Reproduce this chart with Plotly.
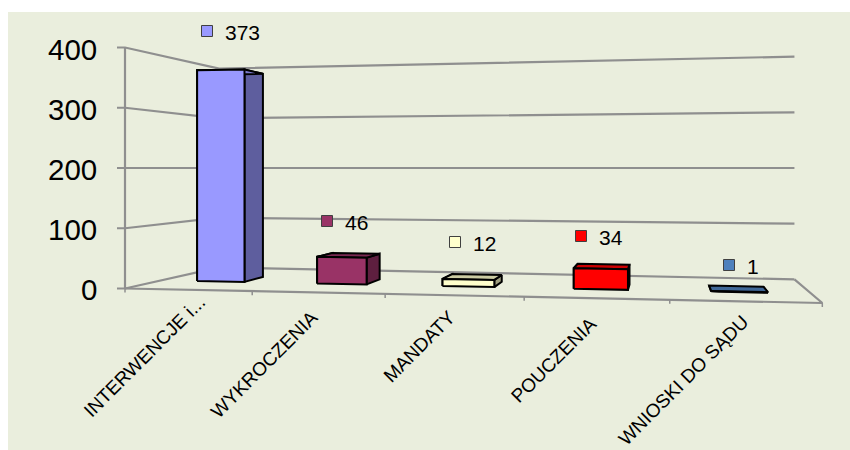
import plotly.graph_objects as go

# ---------- data ----------
categories = ["INTERWENCJE i...", "WYKROCZENIA", "MANDATY", "POUCZENIA", "WNIOSKI DO SĄDU"]
values = [373, 46, 12, 34, 1]
value_ticks = [0, 100, 200, 300, 400]
front_colors = ["#9999FF", "#993366", "#FFFFCC", "#FF0000", "#4F81BD"]

# ---------- one-point/two-point perspective of the chart box (pixels) ----------
W, H = 850, 450
VP_X, VP_Y = 663.0, 168.0      # depth vanishing point
VW_X = -5670.0                 # width vanishing point
H_LEFT, H_RIGHT = 120.5, 135.0 # half height of the 0-400 scale on front plane
T_BACK = 0.175                 # depth of back wall
T_BAR = (0.069, 0.11)          # bar front/back depth
BAR_HALF = 0.04                # half bar width in axis-length units
MID = 200.0


def P(u, v, t):
    """Project (position along axis 0-1, value, depth) to the page."""
    h = 1.0 / (1.0 / H_LEFT + u * (1.0 / H_RIGHT - 1.0 / H_LEFT))
    x = VW_X + h * (125.0 - VW_X) / H_LEFT
    y = VP_Y + (MID - v) / MID * h
    return x + t * (VP_X - x), y + t * (VP_Y - y)


def shade(color, f):
    r, g, b = (int(color[i:i + 2], 16) for i in (1, 3, 5))
    return f"rgb({int(r * f)},{int(g * f)},{int(b * f)})"


fig = go.Figure()
GRID = "#8F8F8F"


def line(pts, width=2.2, color=GRID):
    fig.add_trace(go.Scatter(x=[p[0] for p in pts], y=[p[1] for p in pts], mode="lines",
                             line=dict(color=color, width=width), hoverinfo="skip", showlegend=False))


def poly(pts, fill):
    pts = list(pts) + [pts[0]]
    fig.add_trace(go.Scatter(x=[p[0] for p in pts], y=[p[1] for p in pts], mode="lines", fill="toself",
                             fillcolor=fill, line=dict(color="#000000", width=2),
                             hoverinfo="skip", showlegend=False))


# walls
for v in value_ticks:
    a = P(0, v, 0)
    line([(a[0] - 8, a[1]), a, P(0, v, T_BACK), P(1, v, T_BACK)])
line([P(0, 0, 0), P(0, 400, 0)])
# floor
line([P(0, 0, 0), P(1, 0, 0), P(1, 0, T_BACK)])
n = len(categories)
for i in range(n + 1):
    a = P(i / n, 0, 0)
    line([a, (a[0], a[1] + 4)], width=1.5)

# bars
t0, t1 = T_BAR
for i, (val, col) in enumerate(zip(values, front_colors)):
    c = (i + 0.5) / n
    l, r = c - BAR_HALF, c + BAR_HALF
    poly([P(l, 0, t0), P(l, 0, t1), P(l, val, t1), P(l, val, t0)], shade(col, 0.62))
    poly([P(r, 0, t0), P(r, 0, t1), P(r, val, t1), P(r, val, t0)], shade(col, 0.62))
    poly([P(l, val, t0), P(l, val, t1), P(r, val, t1), P(r, val, t0)], shade(col, 0.8))
    poly([P(l, 0, t0), P(r, 0, t0), P(r, val, t0), P(l, val, t0)], col)

# data-label keys
key_x = [207, 327, 455, 581, 729]
key_y = [31, 221, 242, 236, 265]
fig.add_trace(go.Scatter(x=key_x, y=key_y, mode="markers", hoverinfo="skip", showlegend=False,
                         marker=dict(symbol="square", size=11, color=front_colors,
                                     line=dict(color="#404040", width=1))))

ann = []
for kx, ky, val in zip(key_x, key_y, values):
    ann.append(dict(x=kx + 16, y=ky + 1.5, text=str(val), xanchor="left", yanchor="middle", showarrow=False,
                    font=dict(family="Liberation Sans", size=21, color="#000000")))
for v, y in zip(value_ticks, [289, 229, 169, 109, 49]):
    ann.append(dict(x=99, y=y, text=str(v), xanchor="right", yanchor="middle", showarrow=False,
                    font=dict(family="Liberation Sans", size=29.5, color="#000000")))
label_x = [144, 264, 419, 553, 683]
label_y = [356, 364, 346, 360, 380]
for cat, x, y in zip(categories, label_x, label_y):
    ann.append(dict(x=x, y=y, text=cat, textangle=-45, xanchor="center", yanchor="middle", showarrow=False,
                    font=dict(family="Liberation Sans", size=19, color="#000000")))

fig.update_layout(
    width=W, height=H, autosize=False,
    margin=dict(l=8, r=0, t=12, b=0),
    paper_bgcolor="#FFFFFF", plot_bgcolor="#EAEEDD",
    xaxis=dict(range=[8, W], visible=False, fixedrange=True),
    yaxis=dict(range=[H, 12], visible=False, fixedrange=True),
    annotations=ann, showlegend=False,
)
fig.write_html("out.html", config={"displayModeBar": False}, post_script="document.body.style.margin='0';")
